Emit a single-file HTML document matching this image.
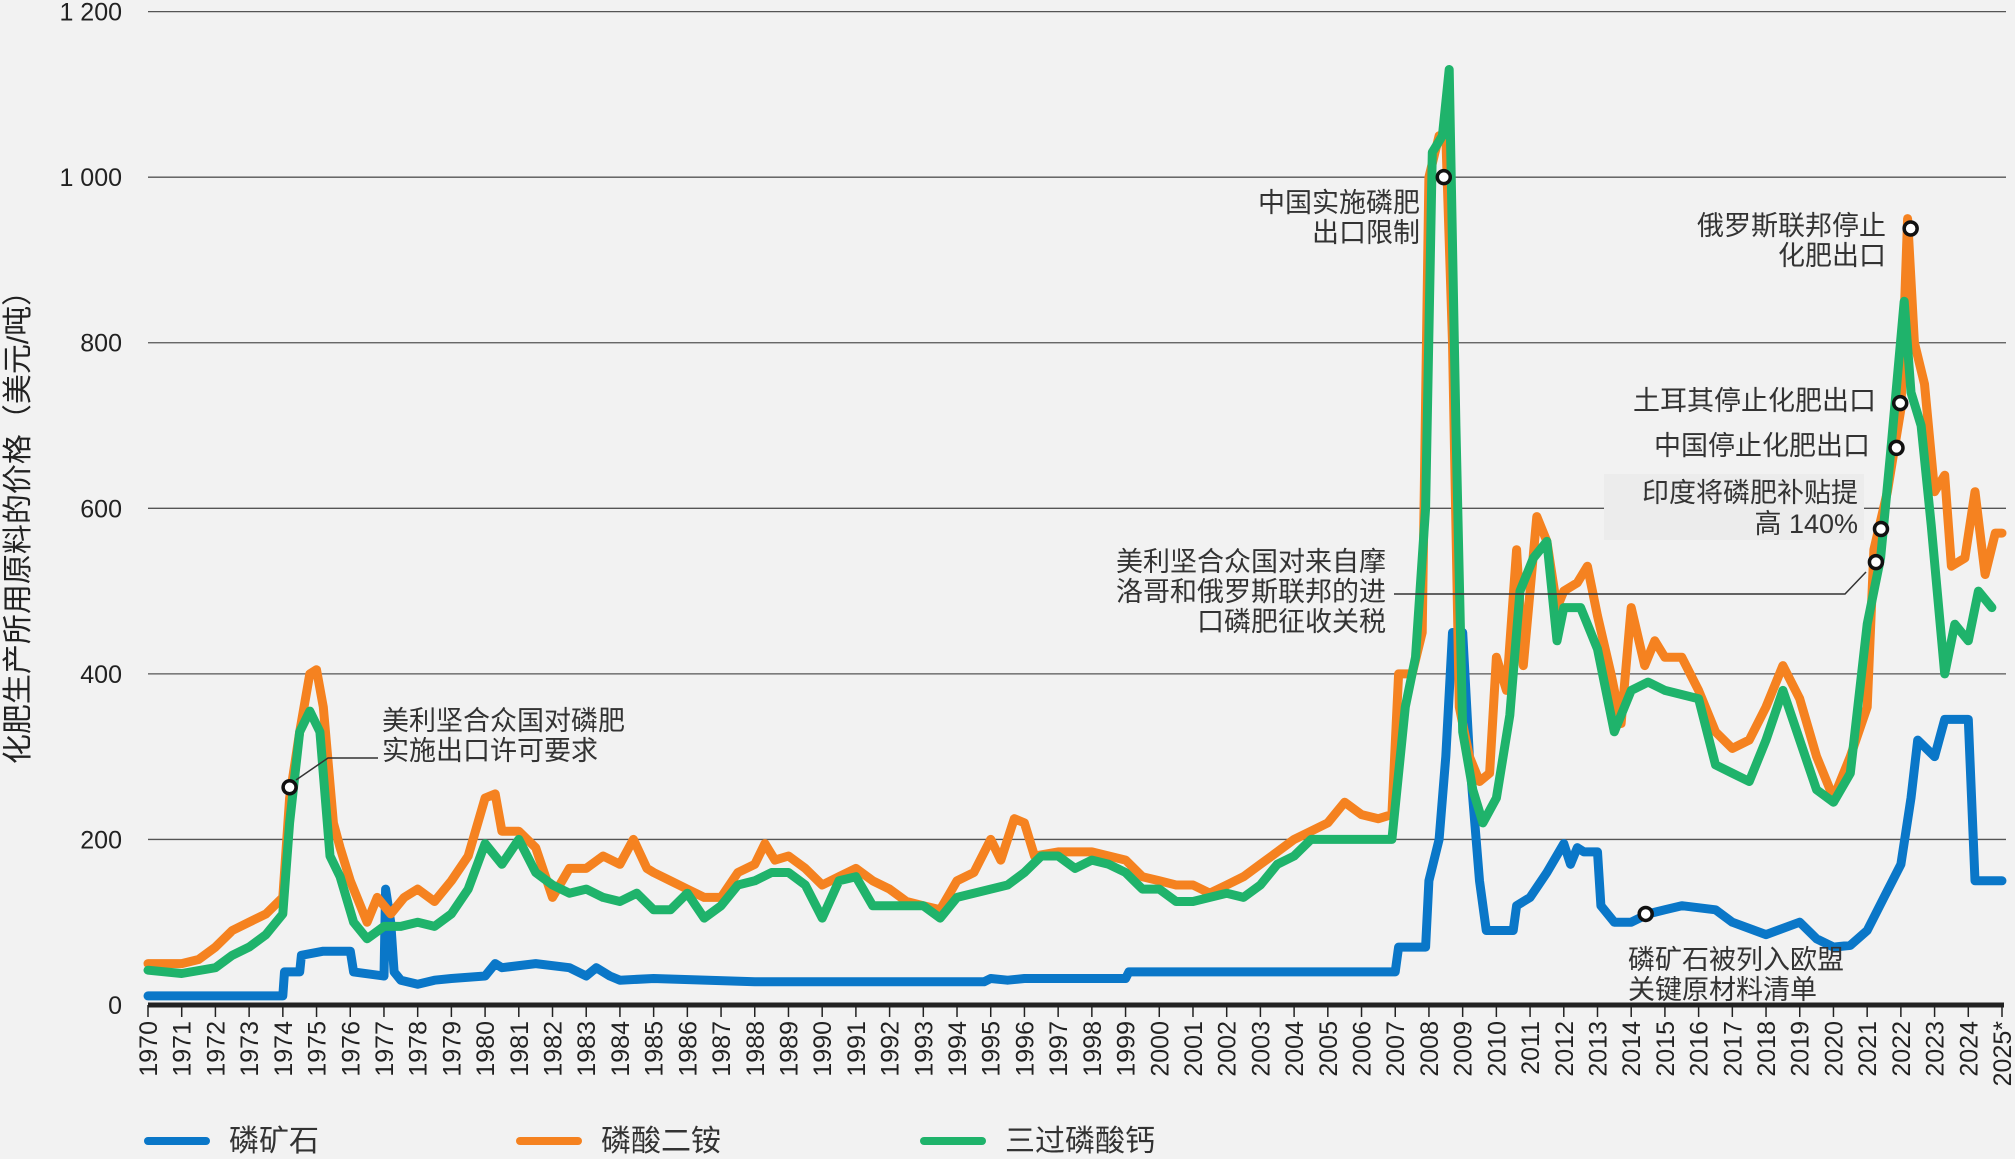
<!DOCTYPE html>
<html><head><meta charset="utf-8"><style>
html,body{margin:0;padding:0;background:#f2f2f2;}
svg{display:block;font-family:"Liberation Sans","Noto Sans CJK SC",sans-serif;}
.ann{font-size:27px;fill:#333;}
</style></head><body>
<svg id="chart" width="2015" height="1159" viewBox="0 0 2015 1159" xmlns="http://www.w3.org/2000/svg">
<rect width="2015" height="1159" fill="#f2f2f2"/>
<g id="grid"></g>
<g id="yticks"></g>
<g id="xaxis"></g>
<rect x="1604" y="474" width="260" height="66" fill="#ececec"/>
<g id="series"></g>
<text transform="translate(28,520) rotate(-90)" text-anchor="middle" font-size="30" fill="#222">化肥生产所用原料的价格（美元/吨）</text>
<g id="annotations">
<text class="ann" x="382" y="730"><tspan x="382">美利坚合众国对磷肥</tspan><tspan x="382" dy="30">实施出口许可要求</tspan></text>
<polyline points="296,780 328,758 378,758" fill="none" stroke="#333" stroke-width="1.5"/>
<text class="ann" x="1420" y="212" text-anchor="end"><tspan x="1420">中国实施磷肥</tspan><tspan x="1420" dy="30">出口限制</tspan></text>
<text class="ann" x="1886" y="235" text-anchor="end"><tspan x="1886">俄罗斯联邦停止</tspan><tspan x="1886" dy="30">化肥出口</tspan></text>
<text class="ann" x="1876" y="410" text-anchor="end">土耳其停止化肥出口</text>
<text class="ann" x="1870" y="455" text-anchor="end">中国停止化肥出口</text>
<text class="ann" x="1858" y="502" text-anchor="end"><tspan x="1858">印度将磷肥补贴提</tspan><tspan x="1858" dy="31">高 140%</tspan></text>
<text class="ann" x="1386" y="571" text-anchor="end"><tspan x="1386">美利坚合众国对来自摩</tspan><tspan x="1386" dy="30">洛哥和俄罗斯联邦的进</tspan><tspan x="1386" dy="30">口磷肥征收关税</tspan></text>
<polyline points="1394,594 1845,594 1866,572" fill="none" stroke="#333" stroke-width="1.5"/>
<text class="ann" x="1628" y="969"><tspan x="1628">磷矿石被列入欧盟</tspan><tspan x="1628" dy="30">关键原材料清单</tspan></text>
</g>
<g id="markers"></g>
<g>
<line x1="148" y1="1141" x2="206" y2="1141" stroke="#0a77c8" stroke-width="8" stroke-linecap="round"/>
<text x="229" y="1151" font-size="30" fill="#333">磷矿石</text>
<line x1="520" y1="1141" x2="578" y2="1141" stroke="#f58220" stroke-width="8" stroke-linecap="round"/>
<text x="601" y="1151" font-size="30" fill="#333">磷酸二铵</text>
<line x1="924" y1="1141" x2="982" y2="1141" stroke="#1fb36b" stroke-width="8" stroke-linecap="round"/>
<text x="1005" y="1151" font-size="30" fill="#333">三过磷酸钙</text>
</g>
</svg>
<script>
const yTicks=[0,200,400,600,800,1000,1200];
const yTickLabels=["0","200","400","600","800","1 000","1 200"];
const years=[];for(let y=1970;y<=2025;y++)years.push(y);
const rockT=[1970,1974,1974.05,1974.5,1974.55,1975.2,1976,1976.1,1977,1977.05,1977.2,1977.3,1977.5,1978,1978.5,1979,1980,1980.3,1980.5,1981.5,1982.5,1983,1983.3,1983.7,1984,1985,1988,1994.8,1995,1995.5,1996,1999,1999.1,2007,2007.1,2007.9,2008.0,2008.3,2008.5,2008.7,2009.0,2009.2,2009.5,2009.7,2010.5,2010.6,2011,2011.5,2012,2012.2,2012.4,2012.6,2013,2013.1,2013.5,2014,2014.5,2015,2015.5,2016.5,2017,2018,2019,2019.5,2020,2020.5,2021,2021.5,2022,2022.3,2022.5,2023,2023.3,2024,2024.2,2025];
const rockV=[11,11,40,40,60,65,65,40,35,140,100,40,30,25,30,32,35,50,45,50,45,35,45,35,30,32,28,28,32,30,32,32,40,40,70,70,150,200,300,450,450,300,150,90,90,120,130,160,195,170,190,185,185,120,100,100,110,115,120,115,100,85,100,80,70,72,90,130,170,250,320,300,345,345,150,150];
const dapT=[1970,1971,1971.5,1972,1972.5,1973,1973.5,1974,1974.2,1974.5,1974.8,1975.0,1975.2,1975.5,1975.7,1976,1976.5,1976.8,1977.2,1977.6,1978,1978.5,1979,1979.5,1980,1980.3,1980.5,1981,1981.5,1982,1982.5,1983,1983.5,1984,1984.4,1984.8,1985,1985.5,1986,1986.5,1987,1987.5,1988,1988.3,1988.6,1989,1989.5,1990,1990.5,1991,1991.5,1992,1992.5,1993,1993.5,1994,1994.5,1995,1995.3,1995.7,1996,1996.3,1997,1998,1999,1999.5,2000,2000.5,2001,2001.5,2002,2002.5,2003,2003.5,2004,2004.5,2005,2005.5,2006,2006.5,2006.9,2007.1,2007.5,2007.8,2008.0,2008.3,2008.5,2008.7,2008.9,2009.2,2009.5,2009.8,2010,2010.3,2010.6,2010.8,2011.2,2011.5,2011.8,2012,2012.4,2012.7,2013,2013.4,2013.7,2014,2014.4,2014.7,2015,2015.5,2016,2016.5,2017,2017.5,2018,2018.5,2019,2019.5,2020,2020.5,2021,2021.2,2021.6,2022,2022.2,2022.4,2022.7,2023,2023.3,2023.5,2023.9,2024.2,2024.5,2024.8,2025];
const dapV=[50,50,55,70,90,100,110,130,250,330,400,405,360,220,190,150,100,130,110,130,140,125,150,180,250,255,210,210,190,130,165,165,180,170,200,165,160,150,140,130,130,160,170,195,175,180,165,145,155,165,150,140,125,120,115,150,160,200,175,225,220,180,185,185,175,155,150,145,145,135,145,155,170,185,200,210,220,245,230,225,230,400,400,450,1000,1050,1050,800,360,300,270,280,420,380,550,410,590,560,480,500,510,530,470,400,340,480,410,440,420,420,380,330,310,320,360,410,370,300,250,300,360,550,620,720,950,800,750,620,640,530,540,620,520,570,570];
const tspT=[1970,1971,1972,1972.5,1973,1973.5,1974,1974.2,1974.5,1974.8,1975.1,1975.4,1975.7,1976.1,1976.5,1977,1977.5,1978,1978.5,1979,1979.5,1980,1980.5,1981,1981.5,1982,1982.5,1983,1983.5,1984,1984.5,1985,1985.5,1986,1986.5,1987,1987.5,1988,1988.5,1989,1989.5,1990,1990.5,1991,1991.5,1992,1993,1993.5,1994,1995,1995.5,1996,1996.5,1997,1997.5,1998,1998.5,1999,1999.5,2000,2000.5,2001,2001.5,2002,2002.5,2003,2003.5,2004,2004.5,2005,2006,2006.9,2007.1,2007.3,2007.6,2007.9,2008.1,2008.4,2008.6,2008.8,2009.0,2009.3,2009.6,2010,2010.4,2010.7,2011.1,2011.5,2011.8,2012,2012.5,2013,2013.5,2014,2014.5,2015,2016,2016.5,2017,2017.5,2018,2018.5,2019,2019.5,2020,2020.5,2021,2021.4,2021.7,2022.1,2022.3,2022.6,2022.9,2023.3,2023.6,2024,2024.3,2024.7];
const tspV=[42,38,45,60,70,85,110,220,330,355,330,180,155,100,80,95,95,100,95,110,140,195,170,200,160,145,135,140,130,125,135,115,115,135,105,120,145,150,160,160,145,105,150,155,120,120,120,105,130,140,145,160,180,180,165,175,170,160,140,140,125,125,130,135,130,145,170,180,200,200,200,200,280,360,420,600,1030,1050,1130,700,330,260,220,250,350,500,540,560,440,480,480,430,330,380,390,380,370,290,280,270,320,380,320,260,245,280,460,540,670,850,740,700,580,400,460,440,500,480];
const evT=[1974.2,2008.44,2022.29,2021.98,2021.87,2021.41,2021.26,2014.43];
const evV=[263,1000,938,727,673,575,535,110];
const X0=148,X1=2002,Y0=1005,Y1=11.6;
const xs=t=>X0+(t-1970)/(2025-1970)*(X1-X0);
const ys=v=>Y0-(v/1200)*(Y0-Y1);
const NS="http://www.w3.org/2000/svg";
function mk(tag,attrs,parent){const e=document.createElementNS(NS,tag);for(const k in attrs)e.setAttribute(k,attrs[k]);parent.appendChild(e);return e;}
const grid=document.getElementById('grid'),yt=document.getElementById('yticks'),xa=document.getElementById('xaxis');
yTicks.forEach((v,i)=>{
  if(v>0){const l=mk('line',{x1:X0,x2:2006,y1:ys(v),y2:ys(v),stroke:'#555','stroke-width':1.3},grid);
  
  }
  const t=mk('text',{x:122,y:ys(v)+9,'text-anchor':'end','font-size':25,fill:'#222'},yt);
  t.textContent=yTickLabels[i];
  
  
});
const ax=mk('line',{x1:X0,x2:X1+2,y1:Y0,y2:Y0,stroke:'#222','stroke-width':5},xa);


years.forEach(y=>{
  const x=xs(y);
  const tk=mk('line',{x1:x,x2:x,y1:Y0,y2:Y0+12,stroke:'#222','stroke-width':1.5},xa);
  
  
  const t=mk('text',{transform:`translate(${x+9},${Y0+16}) rotate(-90)`,'text-anchor':'end','font-size':25,fill:'#222'},xa);
  t.textContent=y===2025?'2025*':String(y);
  
  
});
const ser=document.getElementById('series');
function draw(T,V,color,name){
  const d=T.map((t,i)=>(i?'L':'M')+xs(t).toFixed(1)+','+ys(V[i]).toFixed(1)).join(' ');
  const p=mk('path',{d:d,fill:'none',stroke:color,'stroke-width':9,'stroke-linejoin':'round','stroke-linecap':'round'},ser);
  
  
}
draw(rockT,rockV,'#0a77c8','line-phosphate-rock');
draw(dapT,dapV,'#f58220','line-dap');
draw(tspT,tspV,'#1fb36b','line-tsp');
const mg=document.getElementById('markers');
evT.forEach((t,i)=>{
  const c=mk('circle',{cx:xs(t),cy:ys(evV[i]),r:6.5,fill:'#fff',stroke:'#111','stroke-width':3.5},mg);
  
  
});
</script>
</body></html>
